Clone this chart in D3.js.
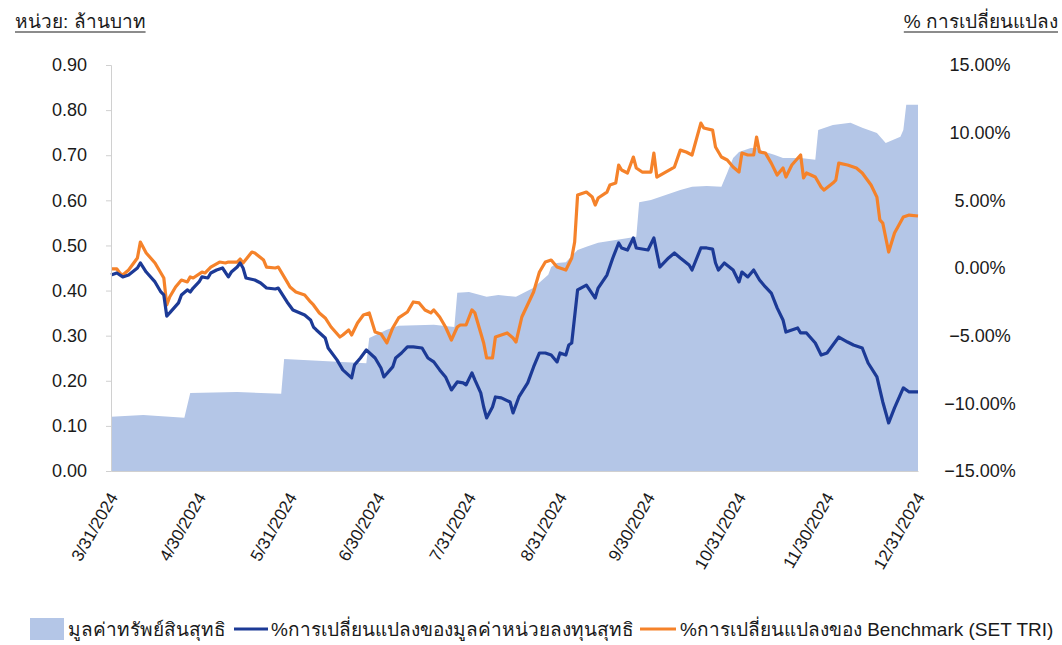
<!DOCTYPE html>
<html><head><meta charset="utf-8">
<script src="https://cdn.jsdelivr.net/npm/d3@7"></script>
<style>
body{margin:0;background:#fff}
svg text{font-family:"Liberation Sans",Arial,"Noto Sans",sans-serif;fill:#1a1a1a}
</style>
</head><body>
<svg id="c" width="1062" height="645"></svg>
<script>
// ---------- DATA ----------
const navDates=["2024-03-31","2024-04-11","2024-04-25","2024-04-27","2024-05-13","2024-05-28","2024-05-29","2024-06-26","2024-06-27","2024-07-03","2024-07-07","2024-07-19","2024-07-26","2024-07-27","2024-07-31","2024-08-06","2024-08-10","2024-08-16","2024-08-22","2024-08-27","2024-08-28","2024-08-30","2024-09-02","2024-09-06","2024-09-09","2024-09-13","2024-09-19","2024-09-26","2024-09-27","2024-10-01","2024-10-06","2024-10-11","2024-10-15","2024-10-20","2024-10-25","2024-10-27","2024-10-29","2024-10-31","2024-11-04","2024-11-06","2024-11-09","2024-11-12","2024-11-15","2024-11-21","2024-11-26","2024-11-27","2024-12-02","2024-12-08","2024-12-12","2024-12-17","2024-12-20","2024-12-25","2024-12-26","2024-12-27","2024-12-31"];
const navValues=[0.120,0.124,0.118,0.173,0.175,0.171,0.248,0.239,0.295,0.313,0.322,0.324,0.319,0.395,0.397,0.386,0.390,0.386,0.406,0.435,0.452,0.461,0.463,0.490,0.497,0.506,0.512,0.519,0.596,0.601,0.612,0.623,0.630,0.632,0.630,0.661,0.694,0.707,0.716,0.716,0.707,0.701,0.694,0.694,0.690,0.756,0.767,0.772,0.761,0.749,0.727,0.741,0.756,0.812,0.812];

const fundDates=["2024-03-31","2024-04-02","2024-04-04","2024-04-06","2024-04-09","2024-04-10","2024-04-12","2024-04-15","2024-04-17","2024-04-18","2024-04-19","2024-04-20","2024-04-23","2024-04-24","2024-04-26","2024-04-27","2024-04-28","2024-04-30","2024-05-01","2024-05-03","2024-05-04","2024-05-06","2024-05-08","2024-05-10","2024-05-11","2024-05-13","2024-05-14","2024-05-15","2024-05-16","2024-05-19","2024-05-21","2024-05-23","2024-05-26","2024-05-27","2024-05-30","2024-06-01","2024-06-05","2024-06-07","2024-06-08","2024-06-09","2024-06-12","2024-06-13","2024-06-16","2024-06-18","2024-06-21","2024-06-22","2024-06-24","2024-06-26","2024-06-29","2024-07-01","2024-07-02","2024-07-05","2024-07-06","2024-07-08","2024-07-10","2024-07-12","2024-07-15","2024-07-17","2024-07-19","2024-07-21","2024-07-23","2024-07-25","2024-07-27","2024-07-29","2024-07-30","2024-08-01","2024-08-02","2024-08-04","2024-08-05","2024-08-06","2024-08-08","2024-08-09","2024-08-11","2024-08-14","2024-08-15","2024-08-17","2024-08-20","2024-08-22","2024-08-24","2024-08-26","2024-08-28","2024-08-30","2024-08-31","2024-09-02","2024-09-03","2024-09-04","2024-09-06","2024-09-09","2024-09-12","2024-09-13","2024-09-16","2024-09-18","2024-09-20","2024-09-21","2024-09-23","2024-09-25","2024-09-26","2024-09-30","2024-10-02","2024-10-04","2024-10-07","2024-10-09","2024-10-11","2024-10-14","2024-10-15","2024-10-18","2024-10-20","2024-10-22","2024-10-23","2024-10-24","2024-10-26","2024-10-29","2024-10-31","2024-11-01","2024-11-03","2024-11-05","2024-11-07","2024-11-09","2024-11-11","2024-11-13","2024-11-15","2024-11-16","2024-11-20","2024-11-21","2024-11-23","2024-11-26","2024-11-28","2024-11-30","2024-12-02","2024-12-04","2024-12-07","2024-12-09","2024-12-12","2024-12-14","2024-12-17","2024-12-19","2024-12-21","2024-12-23","2024-12-26","2024-12-28","2024-12-31"];
const fundPct=[-0.52,-0.37,-0.66,-0.52,0.00,0.37,-0.30,-1.03,-1.77,-1.99,-3.55,-3.32,-2.58,-1.99,-1.62,-1.77,-1.48,-1.03,-0.66,-0.74,-0.37,-0.15,0.00,-0.66,-0.30,0.07,0.37,0.00,-0.74,-0.89,-1.11,-1.48,-1.55,-1.48,-2.51,-3.10,-3.47,-3.84,-4.36,-4.58,-5.17,-5.91,-6.79,-7.53,-8.12,-7.16,-6.65,-6.06,-6.65,-7.39,-8.05,-7.31,-6.65,-6.28,-5.83,-5.83,-5.91,-6.65,-6.94,-7.53,-8.05,-9.01,-8.42,-8.49,-8.64,-7.75,-8.27,-9.23,-10.27,-11.08,-10.27,-9.53,-9.60,-9.90,-10.71,-9.53,-8.49,-7.31,-6.28,-6.28,-6.43,-6.94,-6.28,-6.43,-5.69,-5.54,-1.62,-1.26,-2.22,-1.48,-0.52,0.74,1.85,1.48,1.33,2.22,1.48,1.33,2.22,0.07,0.74,1.11,0.74,0.22,-0.15,1.48,1.48,1.40,0.37,-0.15,0.37,-0.15,-1.03,-0.30,-0.66,-0.15,-0.89,-1.40,-1.85,-2.95,-3.84,-4.73,-4.43,-4.80,-4.80,-5.54,-6.43,-6.28,-5.69,-5.10,-5.47,-5.69,-5.91,-7.02,-8.05,-9.90,-11.45,-10.34,-8.86,-9.16,-9.16];

const benchDates=["2024-03-31","2024-04-02","2024-04-03","2024-04-04","2024-04-06","2024-04-09","2024-04-10","2024-04-12","2024-04-15","2024-04-18","2024-04-19","2024-04-20","2024-04-22","2024-04-24","2024-04-26","2024-04-27","2024-04-28","2024-05-01","2024-05-02","2024-05-04","2024-05-07","2024-05-09","2024-05-10","2024-05-13","2024-05-14","2024-05-15","2024-05-18","2024-05-19","2024-05-22","2024-05-23","2024-05-26","2024-05-27","2024-05-30","2024-05-31","2024-06-02","2024-06-05","2024-06-07","2024-06-08","2024-06-10","2024-06-12","2024-06-14","2024-06-17","2024-06-18","2024-06-20","2024-06-21","2024-06-23","2024-06-25","2024-06-27","2024-06-29","2024-07-01","2024-07-03","2024-07-05","2024-07-07","2024-07-10","2024-07-12","2024-07-14","2024-07-16","2024-07-18","2024-07-19","2024-07-21","2024-07-23","2024-07-25","2024-07-27","2024-07-28","2024-07-30","2024-08-01","2024-08-02","2024-08-04","2024-08-05","2024-08-06","2024-08-08","2024-08-09","2024-08-11","2024-08-13","2024-08-15","2024-08-16","2024-08-18","2024-08-22","2024-08-24","2024-08-26","2024-08-28","2024-08-30","2024-09-02","2024-09-04","2024-09-05","2024-09-06","2024-09-09","2024-09-11","2024-09-12","2024-09-13","2024-09-16","2024-09-17","2024-09-19","2024-09-20","2024-09-21","2024-09-23","2024-09-25","2024-09-26","2024-09-28","2024-10-01","2024-10-02","2024-10-03","2024-10-06","2024-10-09","2024-10-11","2024-10-13","2024-10-15","2024-10-18","2024-10-19","2024-10-22","2024-10-23","2024-10-25","2024-10-27","2024-10-29","2024-10-31","2024-11-01","2024-11-03","2024-11-05","2024-11-06","2024-11-07","2024-11-09","2024-11-11","2024-11-13","2024-11-15","2024-11-16","2024-11-18","2024-11-21","2024-11-22","2024-11-23","2024-11-26","2024-11-28","2024-11-29","2024-12-02","2024-12-03","2024-12-04","2024-12-07","2024-12-10","2024-12-12","2024-12-15","2024-12-17","2024-12-18","2024-12-19","2024-12-21","2024-12-23","2024-12-26","2024-12-28","2024-12-31"];
const benchPct=[-0.07,-0.07,-0.37,-0.52,-0.15,0.74,1.92,1.11,0.37,-0.74,-2.73,-2.14,-1.40,-0.89,-1.03,-0.66,-0.74,-0.30,-0.37,0.07,0.44,0.37,0.44,0.44,0.66,0.37,1.18,1.11,0.59,0.07,0.00,0.07,-1.03,-1.40,-1.77,-1.99,-2.51,-2.73,-3.32,-3.69,-4.36,-5.10,-4.95,-4.58,-4.95,-4.06,-3.47,-3.32,-4.73,-4.87,-5.54,-4.43,-3.69,-3.25,-2.51,-2.58,-3.10,-3.32,-3.10,-3.62,-4.36,-5.32,-4.36,-4.21,-4.21,-3.10,-3.32,-4.80,-5.54,-6.65,-6.65,-5.10,-4.95,-4.80,-5.17,-5.47,-3.62,-1.77,-0.30,0.44,0.59,0.07,-0.15,0.74,1.92,5.39,5.61,5.24,4.65,5.17,5.61,6.13,6.28,7.61,7.24,7.02,8.20,7.39,7.09,7.09,8.49,6.72,7.09,7.46,8.71,8.57,8.35,10.71,10.34,10.19,8.94,8.20,7.98,7.46,7.09,8.49,8.35,8.35,9.68,8.57,8.49,7.75,6.87,7.39,6.72,7.61,8.35,6.65,7.02,6.72,5.98,5.76,6.28,6.50,7.75,7.61,7.39,7.02,6.13,5.24,3.55,3.32,1.18,2.58,3.77,3.91,3.84];

const xTickLabels=["3/31/2024","4/30/2024","5/31/2024","6/30/2024","7/31/2024","8/31/2024","9/30/2024","10/31/2024","11/30/2024","12/31/2024"];
const leftTicks=[0,0.1,0.2,0.3,0.4,0.5,0.6,0.7,0.8,0.9];
const rightTicks=[-15,-10,-5,0,5,10,15];
const leftTitle="หน่วย: ล้านบาท";
const rightTitle="% การเปลี่ยนแปลง";
const legendLabels=["มูลค่าทรัพย์สินสุทธิ","%การเปลี่ยนแปลงของมูลค่าหน่วยลงทุนสุทธิ","%การเปลี่ยนแปลงของ Benchmark (SET TRI)"];
const colors={nav:"#b4c6e7",fund:"#1c3a96",bench:"#f5822a"};

// ---------- CHART ----------
const svg=d3.select("#c");
const parse=d3.timeParse("%Y-%m-%d");
const parseTick=d3.timeParse("%m/%d/%Y");
const x=d3.scaleTime().domain([parseTick("3/31/2024"),parseTick("12/31/2024")]).range([111,918]);
const yL=d3.scaleLinear().domain([0,0.9]).range([471,65]);
const yR=d3.scaleLinear().domain([-15,15]).range([471,65]);

const nav=navDates.map((d,i)=>({d:parse(d),v:navValues[i]}));
const fund=fundDates.map((d,i)=>({d:parse(d),v:fundPct[i]}));
const bench=benchDates.map((d,i)=>({d:parse(d),v:benchPct[i]}));

svg.append("path").datum(nav)
  .attr("fill",colors.nav)
  .attr("d",d3.area().x(p=>x(p.d)).y0(yL(0)).y1(p=>yL(p.v)));

svg.append("path").datum(bench)
  .attr("fill","none").attr("stroke",colors.bench).attr("stroke-width",3.2).attr("stroke-linejoin","round")
  .attr("d",d3.line().x(p=>x(p.d)).y(p=>yR(p.v)));
svg.append("path").datum(fund)
  .attr("fill","none").attr("stroke",colors.fund).attr("stroke-width",3.2).attr("stroke-linejoin","round")
  .attr("d",d3.line().x(p=>x(p.d)).y(p=>yR(p.v)));

// left axis
const gL=svg.append("g").attr("transform","translate(111,0)")
  .call(d3.axisLeft(yL).tickValues(leftTicks).tickFormat(d3.format(".2f")).tickSize(5).tickPadding(19));
gL.selectAll("path,line").attr("stroke","#d0d0d0");
gL.selectAll("text").style("font-size","18px").attr("fill","#1a1a1a");

// right axis
const gR=svg.append("g").attr("transform","translate(918,0)")
  .call(d3.axisRight(yR).tickValues(rightTicks).tickFormat(d=>d3.format(".2f")(d)+"%").tickSize(0).tickPadding(62));
gR.select(".domain").remove();
gR.selectAll("text").style("font-size","18px").attr("fill","#1a1a1a").attr("text-anchor","middle");

// bottom axis
const gB=svg.append("g").attr("transform","translate(0,471)")
  .call(d3.axisBottom(x).tickValues(xTickLabels.map(parseTick)).tickFormat((d,i)=>xTickLabels[i]).tickSize(0));
gB.select(".domain").attr("stroke","#d0d0d0");
gB.selectAll("text").style("font-size","17px").attr("fill","#1a1a1a")
  .attr("text-anchor","end").attr("dy",0).attr("y",0)
  .attr("transform","translate(7,26) rotate(-60)");

// titles
function underlined(txt,xp,yp,anchor){
  const t=svg.append("text").attr("x",xp).attr("y",yp).attr("text-anchor",anchor).style("font-size","19px").text(txt);
  const w=t.node().getComputedTextLength();
  const x0=anchor==="end"?xp-w:xp;
  svg.append("line").attr("x1",x0).attr("x2",x0+w).attr("y1",yp+4).attr("y2",yp+4).attr("stroke","#1a1a1a").attr("stroke-width",1.2);
}
underlined(leftTitle,15,28,"start");
underlined(rightTitle,1058,28,"end");

// legend
const ly=629;
const lg=svg.append("g");
lg.append("rect").attr("x",30).attr("y",ly-11).attr("width",34).attr("height",22).attr("fill",colors.nav);
lg.append("text").attr("x",68).attr("y",ly+7).style("font-size","19px").text(legendLabels[0]);
lg.append("line").attr("x1",234).attr("x2",268).attr("y1",ly).attr("y2",ly).attr("stroke",colors.fund).attr("stroke-width",3.2);
lg.append("text").attr("x",271).attr("y",ly+7).style("font-size","19px").text(legendLabels[1]);
lg.append("line").attr("x1",640).attr("x2",676).attr("y1",ly).attr("y2",ly).attr("stroke",colors.bench).attr("stroke-width",3.2);
lg.append("text").attr("x",680).attr("y",ly+7).style("font-size","19px").text(legendLabels[2]);
</script>
</body></html>
